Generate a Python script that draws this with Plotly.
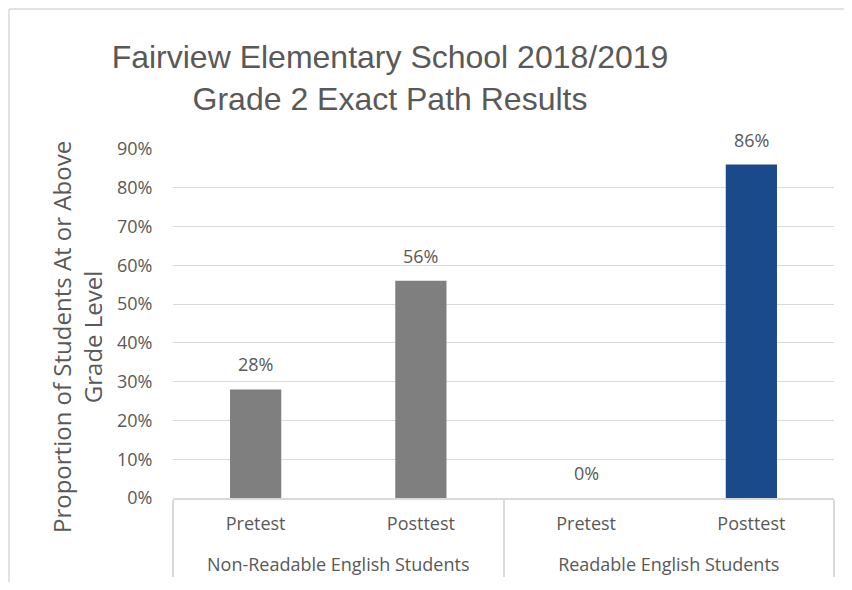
import plotly.graph_objects as go

groups = ["Non-Readable English Students", "Non-Readable English Students",
          "Readable English Students", "Readable English Students"]
tests = ["Pretest", "Posttest", "Pretest", "Posttest"]
values = [0.28, 0.56, 0.0, 0.86]
labels = ["28%", "56%", "0%", "86%"]
bar_colors = ["#7f7f7f", "#7f7f7f", "#7f7f7f", "#1b4a8a"]
y_ticks = [0, 0.1, 0.2, 0.3, 0.4, 0.5, 0.6, 0.7, 0.8, 0.9]
y_ticklabels = ["0%", "10%", "20%", "30%", "40%", "50%", "60%", "70%", "80%", "90%"]

# page body has an 8px margin; figure sized/positioned to compensate
W, H = 836, 574
L, R, T, B = 165, 10, 141, 84
pw, ph = W - L - R, H - T - B

group_display = ["<br>" + g for g in groups]

fig = go.Figure()
fig.add_trace(go.Bar(
    x=[group_display, tests], y=values,
    marker=dict(color=bar_colors, line=dict(width=0)),
    hoverinfo="skip",
))

for g, t, v, lab in zip(group_display, tests, values, labels):
    fig.add_annotation(x=[g, t], y=v, text=lab, showarrow=False,
                       yanchor="bottom", yshift=11,
                       font=dict(family="Open Sans", size=18, color="#595959"))

# y-axis title as rotated annotation
fig.add_annotation(
    xref="paper", yref="paper",
    x=(69 - L) / pw, y=(H - B - 329) / ph,
    xanchor="center", yanchor="middle", textangle=-90, showarrow=False,
    text="Proportion of Students At or Above<br>Grade Level",
    font=dict(family="Open Sans", size=24, color="#595959"),
)

# outer chart frame: top and left edges (right/bottom lie outside the image)
frame = dict(xref="paper", yref="paper", line=dict(color="#d9d9d9", width=1.5),
             layer="below")
fig.add_shape(type="line", x0=(1 - L) / pw, x1=(W + 30 - L) / pw,
              y0=(H - B - 1) / ph, y1=(H - B - 1) / ph, **frame)
fig.add_shape(type="line", x0=(1 - L) / pw, x1=(1 - L) / pw,
              y0=(H - B - 1) / ph, y1=(H - B - (H + 30)) / ph, **frame)

fig.update_layout(
    width=W, height=H,
    margin=dict(l=L, r=R, t=T, b=B, autoexpand=False),
    paper_bgcolor="white", plot_bgcolor="white",
    bargap=0.69,
    showlegend=False,
    font=dict(family="Open Sans", color="#595959"),
    title=dict(
        text="Fairview Elementary School 2018/2019<br>Grade 2 Exact Path Results",
        x=382 / W, xanchor="center", xref="container",
        y=1 - 60 / H, yanchor="middle", yref="container",
        font=dict(family="Liberation Sans", size=32, color="#595959"),
    ),
)
fig.update_xaxes(
    type="multicategory", automargin=False,
    showline=True, linecolor="#d9d9d9", linewidth=1.5,
    showdividers=True, dividercolor="#d9d9d9", dividerwidth=1.5,
    tickfont=dict(family="Open Sans", size=18, color="#595959"),
    ticks="", ticklabelstandoff=9,
)
fig.update_yaxes(
    range=[0, 0.9], automargin=False,
    tickvals=y_ticks, ticktext=y_ticklabels,
    tickfont=dict(family="Open Sans", size=18, color="#595959"),
    showgrid=True, gridcolor="#d9d9d9", gridwidth=1.3,
    zeroline=False, showline=False,
    ticks="outside", tickcolor="white", ticklen=16,
)

fig.write_html("out.html")
